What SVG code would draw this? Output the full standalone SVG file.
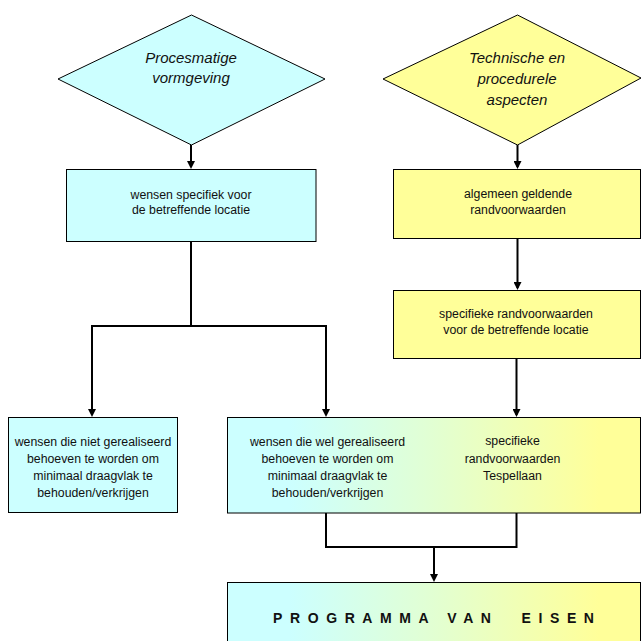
<svg xmlns="http://www.w3.org/2000/svg" width="642" height="641" viewBox="0 0 642 641">
  <defs>
    <linearGradient id="cyanYellow" x1="0" y1="0" x2="1" y2="0">
      <stop offset="0" stop-color="#CCFFFF"/>
      <stop offset="0.15" stop-color="#CCFFFF"/>
      <stop offset="0.5" stop-color="#E2FFD2"/>
      <stop offset="0.9" stop-color="#FFFF99"/>
      <stop offset="1" stop-color="#FFFF99"/>
    </linearGradient>
    <marker id="arrow" viewBox="0 0 8 8" markerWidth="8" markerHeight="8" refX="6" refY="4" orient="auto" markerUnits="userSpaceOnUse">
      <path d="M0,0 L8,4 L0,8 Z" fill="#000"/>
    </marker>
    <style>
      .shape { stroke: #000; stroke-width: 1; }
      .cyan { fill: #CCFFFF; }
      .yellow { fill: #FFFF99; }
      .mixed { fill: url(#cyanYellow); }
      .link { fill: none; stroke: #000; stroke-width: 2; }
      .arrowed { marker-end: url(#arrow); }
      text { font-family: "Liberation Sans", Arial, sans-serif; fill: #111; text-anchor: middle; }
      .title { font-size: 15px; font-style: italic; }
      .body { font-size: 12.3px; }
      .pve { font-size: 14px; font-weight: bold; letter-spacing: 7.6px; text-anchor: start; }
    </style>
  </defs>

  <!-- connectors -->
  <g id="connectors">
    <path class="link arrowed" d="M191,145 V167"/>
    <path class="link arrowed" d="M517.5,145 V167"/>
    <path class="link arrowed" d="M517.5,238 V288"/>
    <path class="link" d="M191,242 V326"/>
    <path class="link" d="M92,326 H326"/>
    <path class="link arrowed" d="M92,325 V415"/>
    <path class="link arrowed" d="M326,325 V415"/>
    <path class="link arrowed" d="M516.5,358 V415"/>
    <path class="link" d="M326,513 V547 H516.5 V513"/>
    <path class="link arrowed" d="M434,547 V580"/>
  </g>

  <!-- decision: process design -->
  <g id="procesmatige">
    <polygon class="shape cyan" points="58,79 191.5,15 325,79 191.5,145"/>
    <text class="title" x="191" y="63">Procesmatige</text>
    <text class="title" x="191" y="83">vormgeving</text>
  </g>

  <!-- decision: technical and procedural aspects -->
  <g id="technisch">
    <polygon class="shape yellow" points="383,79 517.5,15 641,78 517.5,145"/>
    <text class="title" x="517" y="63">Technische en</text>
    <text class="title" x="517" y="84">procedurele</text>
    <text class="title" x="517" y="105">aspecten</text>
  </g>

  <g id="wensen-specifiek">
    <rect class="shape cyan" x="66.5" y="169.5" width="249.5" height="72"/>
    <text class="body" x="191" y="199">wensen specifiek voor</text>
    <text class="body" x="191" y="214">de betreffende locatie</text>
  </g>

  <g id="algemeen">
    <rect class="shape yellow" x="393.5" y="169.5" width="247" height="69"/>
    <text class="body" x="518" y="198">algemeen geldende</text>
    <text class="body" x="518" y="214">randvoorwaarden</text>
  </g>

  <g id="specifieke-randvoorwaarden">
    <rect class="shape yellow" x="393.5" y="290.5" width="247" height="68"/>
    <text class="body" x="516" y="318">specifieke randvoorwaarden</text>
    <text class="body" x="516" y="334">voor de betreffende locatie</text>
  </g>

  <g id="niet-gerealiseerd">
    <rect class="shape cyan" x="8.5" y="417.5" width="169" height="95"/>
    <text class="body" x="93" y="446">wensen die niet gerealiseerd</text>
    <text class="body" x="93" y="463">behoeven te worden om</text>
    <text class="body" x="93" y="480">minimaal draagvlak te</text>
    <text class="body" x="93" y="497">behouden/verkrijgen</text>
  </g>

  <g id="wel-gerealiseerd">
    <rect class="shape mixed" x="227.5" y="417.5" width="413" height="95.5"/>
    <text class="body" x="327.5" y="446">wensen die wel gerealiseerd</text>
    <text class="body" x="327.5" y="463">behoeven te worden om</text>
    <text class="body" x="327.5" y="480">minimaal draagvlak te</text>
    <text class="body" x="327.5" y="497">behouden/verkrijgen</text>
    <text class="body" x="512.5" y="445">specifieke</text>
    <text class="body" x="512.5" y="463">randvoorwaarden</text>
    <text class="body" x="512.5" y="480">Tespellaan</text>
  </g>

  <g id="programma">
    <rect class="shape mixed" x="227.5" y="582.5" width="413" height="70"/>
    <text class="pve" x="273" y="623" xml:space="preserve">PROGRAMMA VAN  EISEN</text>
  </g>
</svg>
